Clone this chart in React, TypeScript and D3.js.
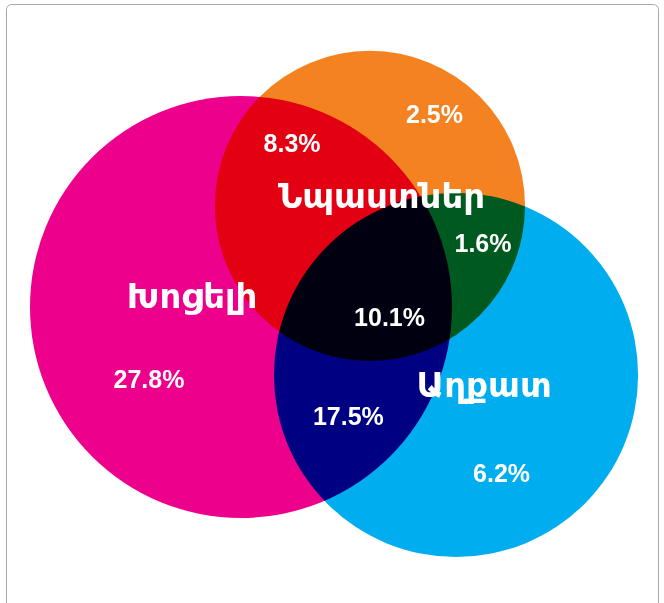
import React, { useEffect, useRef } from 'react';
import * as d3 from 'd3';

// sets (pink radius = 1 venn unit)
const setNames = ['Խոցելի', 'Նպաստներ', 'Աղքատ'];
const setColors = ['#EC008C', '#F58220', '#00AEEF'];
const setCx = [0, 0.611, 1.019];
const setCy = [0, -0.479, 0.322];
const setR = [1, 0.735, 0.863];
const setLabelX = [-0.232, 0.666, 1.152];
const setLabelY = [0.005, -0.469, 0.427];

// region shares
const regionLabels = ['27.8%', '8.3%', '2.5%', '1.6%', '10.1%', '17.5%', '6.2%'];
const regionX = [-0.436, 0.242, 0.917, 1.147, 0.704, 0.509, 1.235];
const regionY = [0.384, -0.735, -0.872, -0.261, 0.09, 0.559, 0.829];

const W = 664;
const H = 603;

const App = () => {
    const ref = useRef<SVGSVGElement>(null);

    useEffect(() => {
        const svg = d3.select(ref.current);
        svg.selectAll('*').remove();

        const x = d3.scaleLinear().domain([-1, 1]).range([30, 452]);
        const y = d3.scaleLinear().domain([-1, 1]).range([96, 518]);
        const k = (x(1) - x(0));

        // frame
        svg.append('rect')
            .attr('x', 6.5)
            .attr('y', 4.5)
            .attr('width', 652)
            .attr('height', 620)
            .attr('rx', 5)
            .attr('fill', '#fff')
            .attr('stroke', '#a8a8a8');

        const g = svg.append('g').style('isolation', 'isolate');

        g.selectAll('circle')
            .data(setNames.map((n, i) => i))
            .enter().append('circle')
            .attr('cx', i => x(setCx[i]))
            .attr('cy', i => y(setCy[i]))
            .attr('r', i => setR[i] * k)
            .attr('fill', i => setColors[i])
            .style('mix-blend-mode', 'multiply');

        svg.selectAll('.setlabel')
            .data(setNames)
            .enter().append('text')
            .attr('class', 'setlabel')
            .attr('x', (d, i) => x(setLabelX[i]))
            .attr('y', (d, i) => y(setLabelY[i]))
            .attr('text-anchor', 'middle')
            .attr('fill', '#fff')
            .attr('font-family', '"DejaVu Sans", sans-serif')
            .attr('font-weight', 'bold')
            .attr('font-size', 34)
            .text(d => d);

        svg.selectAll('.pct')
            .data(regionLabels)
            .enter().append('text')
            .attr('class', 'pct')
            .attr('x', (d, i) => x(regionX[i]))
            .attr('y', (d, i) => y(regionY[i]))
            .attr('text-anchor', 'middle')
            .attr('fill', '#fff')
            .attr('font-family', '"Liberation Sans", Arial, sans-serif')
            .attr('font-weight', 'bold')
            .attr('font-size', 25)
            .text(d => d);
    }, []);

    return (
        <svg ref={ref} width={W} height={H}
             style={{ position: 'absolute', left: 0, top: 0 }} />
    );
};

export default App;
